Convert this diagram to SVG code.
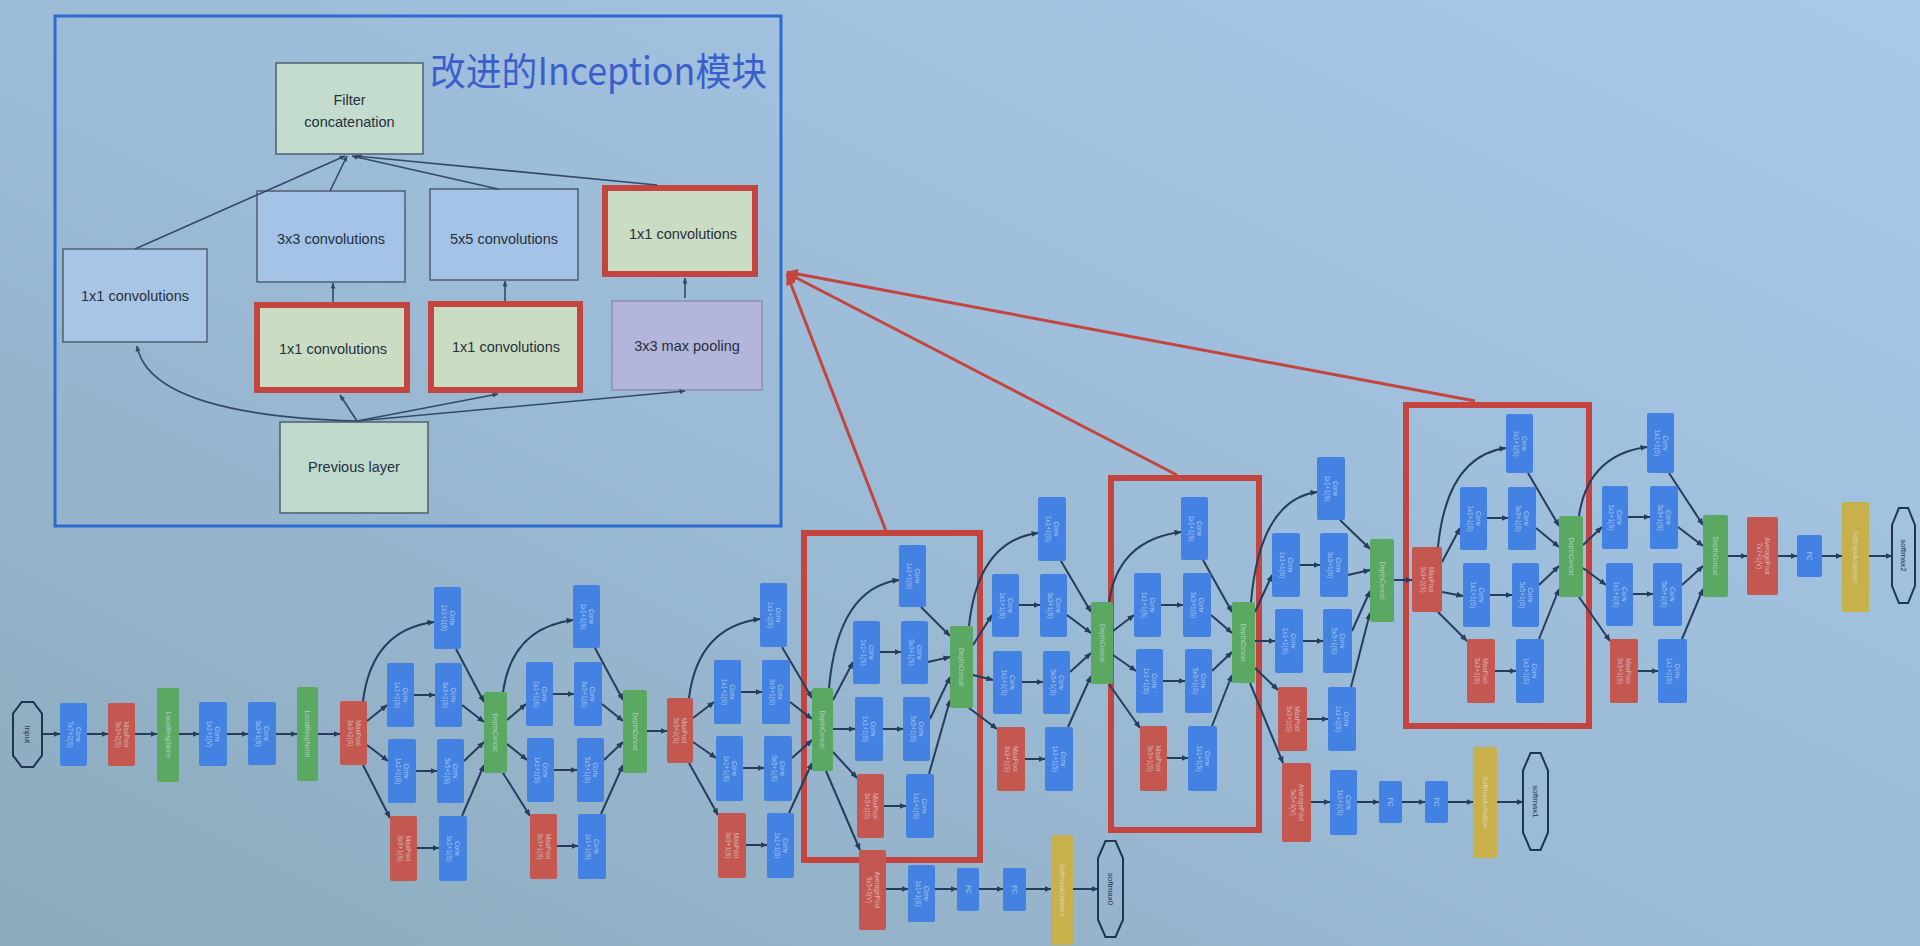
<svg xmlns="http://www.w3.org/2000/svg" width="1920" height="946" viewBox="0 0 1920 946">
<defs>
<linearGradient id="bg" x1="0" y1="1" x2="1" y2="0">
<stop offset="0" stop-color="#8dabbc"/>
<stop offset="0.45" stop-color="#9bbad5"/>
<stop offset="1" stop-color="#a9c9ea"/>
</linearGradient>
<marker id="ah" markerWidth="7" markerHeight="6" refX="6.5" refY="3" orient="auto" markerUnits="userSpaceOnUse"><path d="M0,0 L7,3 L0,6 z" fill="#263c5c"/></marker>
<marker id="ahs" markerWidth="6" markerHeight="5" refX="5.5" refY="2.5" orient="auto" markerUnits="userSpaceOnUse"><path d="M0,0 L6,2.5 L0,5 z" fill="#34496a"/></marker>
<marker id="ahr" markerWidth="12" markerHeight="10" refX="11" refY="5" orient="auto" markerUnits="userSpaceOnUse"><path d="M0,0 L12,5 L0,10 z" fill="#c4453f"/></marker>
</defs>
<style>
.nb{fill:#4382e2}.nr{fill:#c4574f}.ng{fill:#5aa862}.ny{fill:#c8b04a}
.oc{fill:none;stroke:#1f3550;stroke-width:2}
.lb{font-family:"Liberation Sans",Arial,sans-serif;font-size:6.5px;fill:#e6eefc;text-anchor:middle;opacity:.6}
.lo{font-family:"Liberation Sans",Arial,sans-serif;font-size:8px;fill:#1f3550;text-anchor:middle}
.e{fill:none;stroke:#263c5c;stroke-width:2;marker-end:url(#ah)}
.pe{fill:none;stroke:#34496a;stroke-width:1.6;marker-end:url(#ahs)}
.pb{stroke:#4f5f72;stroke-width:1.5}
.pr{stroke:#c4453f;stroke-width:6;fill:#cadcc2}
.pt{font-family:"Liberation Sans",Arial,sans-serif;font-size:14.5px;fill:#263040;text-anchor:middle}
.rb{fill:none;stroke:#c4453f;stroke-width:6}
.ra{fill:none;stroke:#c4453f;stroke-width:3;marker-end:url(#ahr)}
</style>
<rect x="0" y="0" width="1920" height="946" fill="url(#bg)"/>

<g id="panel">
<rect x="55" y="16" width="726" height="510" fill="none" stroke="#2d6ad2" stroke-width="3"/>
<text x="430" y="85" font-family="Noto Sans CJK SC, sans-serif" font-size="38" fill="#3a5fcc" textLength="337" lengthAdjust="spacingAndGlyphs">改进的Inception模块</text>
<g id="p_filter"><rect class="pb" x="276" y="63" width="147" height="91" fill="#c3dccd"/><text class="pt" x="349.5" y="105">Filter</text><text class="pt" x="349.5" y="127">concatenation</text></g>
<g id="p_conv3"><rect class="pb" x="257" y="191" width="148" height="91" fill="#a5c3e6"/><text class="pt" x="331" y="244">3x3 convolutions</text></g>
<g id="p_conv5"><rect class="pb" x="430" y="189" width="148" height="91" fill="#a5c3e6"/><text class="pt" x="504" y="244">5x5 convolutions</text></g>
<g id="p_conv1r"><rect class="pr" x="605" y="188" width="150" height="86"/><text class="pt" x="683" y="239">1x1 convolutions</text></g>
<g id="p_conv1l"><rect class="pb" x="63" y="249" width="144" height="93" fill="#a8c5e6"/><text class="pt" x="135" y="301">1x1 convolutions</text></g>
<g id="p_red1"><rect class="pr" x="257" y="305" width="150" height="85"/><text class="pt" x="333" y="354">1x1 convolutions</text></g>
<g id="p_red2"><rect class="pr" x="431" y="304" width="149" height="86"/><text class="pt" x="506" y="352">1x1 convolutions</text></g>
<g id="p_pool"><rect x="612" y="301" width="150" height="89" fill="#b3b5da" stroke="#8c8fb8" stroke-width="1.5"/><text class="pt" x="687" y="351">3x3 max pooling</text></g>
<g id="p_prev"><rect class="pb" x="280" y="422" width="148" height="91" fill="#bfdacc"/><text class="pt" x="354" y="472">Previous layer</text></g>
<g id="p_edges">
<path class="pe" d="M357,421 Q150,415 137,346"/>
<path class="pe" d="M357,421 L340,395"/>
<path class="pe" d="M357,421 L498,394"/>
<path class="pe" d="M357,421 L685,391"/>
<path class="pe" d="M333,302 L333,283"/>
<path class="pe" d="M505,301 L505,281"/>
<path class="pe" d="M685,298 L685,278"/>
<path class="pe" d="M135,249 L345,156"/>
<path class="pe" d="M330,191 L347,156"/>
<path class="pe" d="M498,189 L352,156"/>
<path class="pe" d="M657,185 L356,156"/>
</g>
</g>

<g id="highlight_boxes">
<rect class="rb" x="804" y="533" width="176" height="327"/>
<rect class="rb" x="1111" y="478" width="148" height="352"/>
<rect class="rb" x="1406" y="405" width="183" height="321"/>
</g>

<g id="connectors">
<path class="e" d="M42,734 L60,734"/><path class="e" d="M87,734 L108,734"/><path class="e" d="M135,734 L157,734"/><path class="e" d="M179,734 L199,734"/><path class="e" d="M227,734 L248,734"/><path class="e" d="M276,734 L297,734"/><path class="e" d="M318,734 L340,734"/>
<path class="e" d="M363,701 Q372,630 434,622"/><path class="e" d="M367,721 L387,705"/><path class="e" d="M367,745 L388,761"/><path class="e" d="M363,765 L390,818"/><path class="e" d="M414,695 L435,695"/><path class="e" d="M416,771 L437,771"/><path class="e" d="M417,848 L439,848"/><path class="e" d="M456,649 L484,702"/><path class="e" d="M462,705 L484,722"/><path class="e" d="M464,761 L484,742"/><path class="e" d="M462,816 L484,765"/>
<path class="e" d="M503,692 Q512,628 573,620"/><path class="e" d="M507,720 L526,704"/><path class="e" d="M507,744 L527,760"/><path class="e" d="M503,773 L530,816"/><path class="e" d="M553,694 L574,694"/><path class="e" d="M554,770 L577,770"/><path class="e" d="M557,846 L578,846"/><path class="e" d="M595,648 L623,700"/><path class="e" d="M602,704 L623,721"/><path class="e" d="M604,760 L623,742"/><path class="e" d="M601,814 L623,765"/>
<path class="e" d="M647,731 L667,731"/>
<path class="e" d="M689,698 Q698,627 760,619"/><path class="e" d="M693,718 L714,702"/><path class="e" d="M693,742 L716,758"/><path class="e" d="M689,763 L718,815"/><path class="e" d="M741,692 L762,692"/><path class="e" d="M743,768 L764,768"/><path class="e" d="M746,845 L767,845"/><path class="e" d="M782,647 L812,698"/><path class="e" d="M790,702 L812,719"/><path class="e" d="M792,758 L812,740"/><path class="e" d="M789,813 L812,763"/>
<path class="e" d="M829,688 Q838,588 899,580"/><path class="e" d="M833,700 L853,662"/><path class="e" d="M833,729 L855,729"/><path class="e" d="M833,752 L857,778"/><path class="e" d="M880,652 L901,652"/><path class="e" d="M883,729 L903,729"/><path class="e" d="M884,806 L906,806"/><path class="e" d="M921,607 L950,636"/><path class="e" d="M928,662 L950,657"/><path class="e" d="M930,719 L950,677"/><path class="e" d="M929,774 L950,700"/>
<path class="e" d="M826,771 L860,850"/><path class="e" d="M886,889 L908,889"/><path class="e" d="M935,889 L957,889"/><path class="e" d="M979,889 L1003,889"/><path class="e" d="M1026,889 L1051,889"/><path class="e" d="M1073,889 L1098,889"/>
<path class="e" d="M969,626 Q978,541 1038,533"/><path class="e" d="M973,645 L992,615"/><path class="e" d="M973,675 L993,680"/><path class="e" d="M969,708 L997,729"/><path class="e" d="M1019,605 L1040,605"/><path class="e" d="M1022,682 L1043,682"/><path class="e" d="M1025,759 L1045,759"/><path class="e" d="M1061,561 L1091,612"/><path class="e" d="M1067,615 L1091,633"/><path class="e" d="M1070,672 L1091,653"/><path class="e" d="M1068,727 L1091,676"/>
<path class="e" d="M1109,602 Q1118,540 1181,532"/><path class="e" d="M1113,631 L1134,615"/><path class="e" d="M1113,655 L1136,671"/><path class="e" d="M1109,684 L1140,728"/><path class="e" d="M1161,605 L1183,605"/><path class="e" d="M1163,681 L1185,681"/><path class="e" d="M1167,758 L1188,758"/><path class="e" d="M1203,560 L1232,612"/><path class="e" d="M1211,615 L1232,633"/><path class="e" d="M1212,671 L1232,652"/><path class="e" d="M1212,726 L1232,675"/>
<path class="e" d="M1250,683 L1283,763"/><path class="e" d="M1311,802 L1330,802"/><path class="e" d="M1357,802 L1379,802"/><path class="e" d="M1402,802 L1425,802"/><path class="e" d="M1448,802 L1473,802"/><path class="e" d="M1497,802 L1523,802"/>
<path class="e" d="M1251,602 Q1260,500 1317,492"/><path class="e" d="M1255,612 L1272,575"/><path class="e" d="M1255,641 L1275,641"/><path class="e" d="M1255,668 L1278,690"/><path class="e" d="M1300,565 L1320,565"/><path class="e" d="M1303,641 L1323,641"/><path class="e" d="M1307,719 L1328,719"/><path class="e" d="M1340,520 L1370,549"/><path class="e" d="M1348,575 L1370,570"/><path class="e" d="M1352,631 L1370,591"/><path class="e" d="M1351,687 L1370,613"/>
<path class="e" d="M1394,580 L1412,580"/>
<path class="e" d="M1438,547 Q1447,456 1506,448"/><path class="e" d="M1442,562 L1460,528"/><path class="e" d="M1442,592 L1463,596"/><path class="e" d="M1438,612 L1467,641"/><path class="e" d="M1487,518 L1508,518"/><path class="e" d="M1490,595 L1512,595"/><path class="e" d="M1495,671 L1516,671"/><path class="e" d="M1528,473 L1559,526"/><path class="e" d="M1536,528 L1559,547"/><path class="e" d="M1539,585 L1559,566"/><path class="e" d="M1539,639 L1559,589"/>
<path class="e" d="M1579,516 Q1588,455 1647,447"/><path class="e" d="M1583,545 L1602,527"/><path class="e" d="M1583,568 L1606,585"/><path class="e" d="M1579,597 L1610,641"/><path class="e" d="M1628,517 L1650,517"/><path class="e" d="M1633,594 L1653,594"/><path class="e" d="M1638,671 L1658,671"/><path class="e" d="M1669,473 L1703,525"/><path class="e" d="M1678,527 L1703,546"/><path class="e" d="M1682,585 L1703,566"/><path class="e" d="M1682,639 L1703,589"/>
<path class="e" d="M1728,556 L1747,556"/><path class="e" d="M1778,556 L1797,556"/><path class="e" d="M1822,556 L1842,556"/><path class="e" d="M1869,556 L1892,556"/>
<path class="ra" d="M886,531 L787,274"/>
<path class="ra" d="M1177,475 L787,273"/>
<path class="ra" d="M1475,401 L787,272"/>
</g>

<g id="stem">
<g id="input"><polygon class="oc" points="21.7,702 33.3,702 42,713.7 42,755.3 33.3,767 21.7,767 13,755.3 13,713.7"/><text class="lo" transform="translate(27.5,734.5) rotate(90)" y="3">input</text></g>
<g id="conv1"><rect class="nb" x="60" y="703" width="27" height="63" rx="2"/><text class="lb" transform="translate(73.5,734.5) rotate(90)"><tspan x="0" y="-2">Conv</tspan><tspan x="0" y="6">7x7+2(S)</tspan></text></g>
<g id="pool1"><rect class="nr" x="108" y="703" width="27" height="63" rx="2"/><text class="lb" transform="translate(121.5,734.5) rotate(90)"><tspan x="0" y="-2">MaxPool</tspan><tspan x="0" y="6">3x3+2(S)</tspan></text></g>
<g id="lrn1"><rect class="ng" x="157" y="688" width="22" height="94" rx="2"/><text class="lb" transform="translate(168,735) rotate(90)" y="2.5">LocalRespNorm</text></g>
<g id="conv2a"><rect class="nb" x="199" y="702" width="28" height="64" rx="2"/><text class="lb" transform="translate(213,734) rotate(90)"><tspan x="0" y="-2">Conv</tspan><tspan x="0" y="6">1x1+1(V)</tspan></text></g>
<g id="conv2b"><rect class="nb" x="248" y="702" width="28" height="63" rx="2"/><text class="lb" transform="translate(262,733.5) rotate(90)"><tspan x="0" y="-2">Conv</tspan><tspan x="0" y="6">3x3+1(S)</tspan></text></g>
<g id="lrn2"><rect class="ng" x="297" y="687" width="21" height="94" rx="2"/><text class="lb" transform="translate(307.5,734) rotate(90)" y="2.5">LocalRespNorm</text></g>
<g id="pool2"><rect class="nr" x="340" y="701" width="27" height="64" rx="2"/><text class="lb" transform="translate(353.5,733) rotate(90)"><tspan x="0" y="-2">MaxPool</tspan><tspan x="0" y="6">3x3+2(S)</tspan></text></g>
</g>

<g id="inc3a">
<g id="i3a_t"><rect class="nb" x="434" y="587" width="27" height="62" rx="2"/><text class="lb" transform="translate(447.5,618) rotate(90)"><tspan x="0" y="-2">Conv</tspan><tspan x="0" y="6">1x1+1(S)</tspan></text></g>
<g id="i3a_a1"><rect class="nb" x="387" y="663" width="27" height="64" rx="2"/><text class="lb" transform="translate(400.5,695) rotate(90)"><tspan x="0" y="-2">Conv</tspan><tspan x="0" y="6">1x1+1(S)</tspan></text></g>
<g id="i3a_a2"><rect class="nb" x="435" y="663" width="27" height="64" rx="2"/><text class="lb" transform="translate(448.5,695) rotate(90)"><tspan x="0" y="-2">Conv</tspan><tspan x="0" y="6">3x3+1(S)</tspan></text></g>
<g id="i3a_b1"><rect class="nb" x="388" y="739" width="28" height="64" rx="2"/><text class="lb" transform="translate(402,771) rotate(90)"><tspan x="0" y="-2">Conv</tspan><tspan x="0" y="6">1x1+1(S)</tspan></text></g>
<g id="i3a_b2"><rect class="nb" x="437" y="739" width="27" height="64" rx="2"/><text class="lb" transform="translate(450.5,771) rotate(90)"><tspan x="0" y="-2">Conv</tspan><tspan x="0" y="6">5x5+1(S)</tspan></text></g>
<g id="i3a_p"><rect class="nr" x="390" y="816" width="27" height="65" rx="2"/><text class="lb" transform="translate(403.5,848.5) rotate(90)"><tspan x="0" y="-2">MaxPool</tspan><tspan x="0" y="6">3x3+1(S)</tspan></text></g>
<g id="i3a_c"><rect class="nb" x="439" y="816" width="28" height="65" rx="2"/><text class="lb" transform="translate(453,848.5) rotate(90)"><tspan x="0" y="-2">Conv</tspan><tspan x="0" y="6">1x1+1(S)</tspan></text></g>
<g id="i3a_cat"><rect class="ng" x="484" y="692" width="23" height="81" rx="2"/><text class="lb" transform="translate(495.5,732.5) rotate(90)" y="2.5">DepthConcat</text></g>
</g>

<g id="inc3b">
<g id="i3b_t"><rect class="nb" x="573" y="585" width="27" height="63" rx="2"/><text class="lb" transform="translate(586.5,616.5) rotate(90)"><tspan x="0" y="-2">Conv</tspan><tspan x="0" y="6">1x1+1(S)</tspan></text></g>
<g id="i3b_a1"><rect class="nb" x="526" y="662" width="27" height="64" rx="2"/><text class="lb" transform="translate(539.5,694) rotate(90)"><tspan x="0" y="-2">Conv</tspan><tspan x="0" y="6">1x1+1(S)</tspan></text></g>
<g id="i3b_a2"><rect class="nb" x="574" y="662" width="28" height="64" rx="2"/><text class="lb" transform="translate(588,694) rotate(90)"><tspan x="0" y="-2">Conv</tspan><tspan x="0" y="6">3x3+1(S)</tspan></text></g>
<g id="i3b_b1"><rect class="nb" x="527" y="738" width="27" height="64" rx="2"/><text class="lb" transform="translate(540.5,770) rotate(90)"><tspan x="0" y="-2">Conv</tspan><tspan x="0" y="6">1x1+1(S)</tspan></text></g>
<g id="i3b_b2"><rect class="nb" x="577" y="738" width="27" height="64" rx="2"/><text class="lb" transform="translate(590.5,770) rotate(90)"><tspan x="0" y="-2">Conv</tspan><tspan x="0" y="6">5x5+1(S)</tspan></text></g>
<g id="i3b_p"><rect class="nr" x="530" y="814" width="27" height="65" rx="2"/><text class="lb" transform="translate(543.5,846.5) rotate(90)"><tspan x="0" y="-2">MaxPool</tspan><tspan x="0" y="6">3x3+1(S)</tspan></text></g>
<g id="i3b_c"><rect class="nb" x="578" y="814" width="28" height="65" rx="2"/><text class="lb" transform="translate(592,846.5) rotate(90)"><tspan x="0" y="-2">Conv</tspan><tspan x="0" y="6">1x1+1(S)</tspan></text></g>
<g id="i3b_cat"><rect class="ng" x="623" y="690" width="24" height="83" rx="2"/><text class="lb" transform="translate(635,731.5) rotate(90)" y="2.5">DepthConcat</text></g>
</g>
<g id="pool3"><rect class="nr" x="667" y="698" width="26" height="65" rx="2"/><text class="lb" transform="translate(680,730.5) rotate(90)"><tspan x="0" y="-2">MaxPool</tspan><tspan x="0" y="6">3x3+2(S)</tspan></text></g>

<g id="inc4a">
<g id="i4a_t"><rect class="nb" x="760" y="583" width="27" height="64" rx="2"/><text class="lb" transform="translate(773.5,615) rotate(90)"><tspan x="0" y="-2">Conv</tspan><tspan x="0" y="6">1x1+1(S)</tspan></text></g>
<g id="i4a_a1"><rect class="nb" x="714" y="660" width="27" height="64" rx="2"/><text class="lb" transform="translate(727.5,692) rotate(90)"><tspan x="0" y="-2">Conv</tspan><tspan x="0" y="6">1x1+1(S)</tspan></text></g>
<g id="i4a_a2"><rect class="nb" x="762" y="660" width="28" height="64" rx="2"/><text class="lb" transform="translate(776,692) rotate(90)"><tspan x="0" y="-2">Conv</tspan><tspan x="0" y="6">3x3+1(S)</tspan></text></g>
<g id="i4a_b1"><rect class="nb" x="716" y="736" width="27" height="65" rx="2"/><text class="lb" transform="translate(729.5,768.5) rotate(90)"><tspan x="0" y="-2">Conv</tspan><tspan x="0" y="6">1x1+1(S)</tspan></text></g>
<g id="i4a_b2"><rect class="nb" x="764" y="736" width="28" height="65" rx="2"/><text class="lb" transform="translate(778,768.5) rotate(90)"><tspan x="0" y="-2">Conv</tspan><tspan x="0" y="6">5x5+1(S)</tspan></text></g>
<g id="i4a_p"><rect class="nr" x="718" y="813" width="28" height="65" rx="2"/><text class="lb" transform="translate(732,845.5) rotate(90)"><tspan x="0" y="-2">MaxPool</tspan><tspan x="0" y="6">3x3+1(S)</tspan></text></g>
<g id="i4a_c"><rect class="nb" x="767" y="813" width="27" height="65" rx="2"/><text class="lb" transform="translate(780.5,845.5) rotate(90)"><tspan x="0" y="-2">Conv</tspan><tspan x="0" y="6">1x1+1(S)</tspan></text></g>
<g id="i4a_cat"><rect class="ng" x="812" y="688" width="21" height="83" rx="2"/><text class="lb" transform="translate(822.5,729.5) rotate(90)" y="2.5">DepthConcat</text></g>
</g>

<g id="inc4b">
<g id="i4b_t"><rect class="nb" x="899" y="545" width="27" height="62" rx="2"/><text class="lb" transform="translate(912.5,576) rotate(90)"><tspan x="0" y="-2">Conv</tspan><tspan x="0" y="6">1x1+1(S)</tspan></text></g>
<g id="i4b_a1"><rect class="nb" x="853" y="621" width="27" height="63" rx="2"/><text class="lb" transform="translate(866.5,652.5) rotate(90)"><tspan x="0" y="-2">Conv</tspan><tspan x="0" y="6">1x1+1(S)</tspan></text></g>
<g id="i4b_a2"><rect class="nb" x="901" y="621" width="27" height="63" rx="2"/><text class="lb" transform="translate(914.5,652.5) rotate(90)"><tspan x="0" y="-2">Conv</tspan><tspan x="0" y="6">3x3+1(S)</tspan></text></g>
<g id="i4b_b1"><rect class="nb" x="855" y="697" width="28" height="64" rx="2"/><text class="lb" transform="translate(869,729) rotate(90)"><tspan x="0" y="-2">Conv</tspan><tspan x="0" y="6">1x1+1(S)</tspan></text></g>
<g id="i4b_b2"><rect class="nb" x="903" y="697" width="27" height="64" rx="2"/><text class="lb" transform="translate(916.5,729) rotate(90)"><tspan x="0" y="-2">Conv</tspan><tspan x="0" y="6">5x5+1(S)</tspan></text></g>
<g id="i4b_p"><rect class="nr" x="857" y="774" width="27" height="64" rx="2"/><text class="lb" transform="translate(870.5,806) rotate(90)"><tspan x="0" y="-2">MaxPool</tspan><tspan x="0" y="6">3x3+1(S)</tspan></text></g>
<g id="i4b_c"><rect class="nb" x="906" y="774" width="28" height="64" rx="2"/><text class="lb" transform="translate(920,806) rotate(90)"><tspan x="0" y="-2">Conv</tspan><tspan x="0" y="6">1x1+1(S)</tspan></text></g>
<g id="i4b_cat"><rect class="ng" x="950" y="626" width="23" height="82" rx="2"/><text class="lb" transform="translate(961.5,667) rotate(90)" y="2.5">DepthConcat</text></g>
</g>

<g id="aux1">
<g id="x1_avg"><rect class="nr" x="859" y="850" width="27" height="80" rx="2"/><text class="lb" transform="translate(872.5,890) rotate(90)"><tspan x="0" y="-2">AveragePool</tspan><tspan x="0" y="6">5x5+3(V)</tspan></text></g>
<g id="x1_conv"><rect class="nb" x="908" y="865" width="27" height="57" rx="2"/><text class="lb" transform="translate(921.5,893.5) rotate(90)"><tspan x="0" y="-2">Conv</tspan><tspan x="0" y="6">1x1+1(S)</tspan></text></g>
<g id="x1_fc1"><rect class="nb" x="957" y="868" width="22" height="43" rx="2"/><text class="lb" transform="translate(968,889.5) rotate(90)" y="2.5">FC</text></g>
<g id="x1_fc2"><rect class="nb" x="1003" y="868" width="23" height="43" rx="2"/><text class="lb" transform="translate(1014.5,889.5) rotate(90)" y="2.5">FC</text></g>
<g id="x1_soft"><rect class="ny" x="1051" y="835" width="22" height="110" rx="2"/><text class="lb" transform="translate(1062,890) rotate(90)" y="2.5">SoftmaxActivation</text></g>
<g id="softmax0"><polygon class="oc" points="1105.5,841 1115.5,841 1123,858.3 1123,919.7 1115.5,937 1105.5,937 1098,919.7 1098,858.3"/><text class="lo" transform="translate(1110.5,889) rotate(90)" y="3">softmax0</text></g>
</g>

<g id="inc4c">
<g id="i4c_t"><rect class="nb" x="1038" y="497" width="28" height="64" rx="2"/><text class="lb" transform="translate(1052,529) rotate(90)"><tspan x="0" y="-2">Conv</tspan><tspan x="0" y="6">1x1+1(S)</tspan></text></g>
<g id="i4c_a1"><rect class="nb" x="992" y="574" width="27" height="63" rx="2"/><text class="lb" transform="translate(1005.5,605.5) rotate(90)"><tspan x="0" y="-2">Conv</tspan><tspan x="0" y="6">1x1+1(S)</tspan></text></g>
<g id="i4c_a2"><rect class="nb" x="1040" y="574" width="27" height="63" rx="2"/><text class="lb" transform="translate(1053.5,605.5) rotate(90)"><tspan x="0" y="-2">Conv</tspan><tspan x="0" y="6">3x3+1(S)</tspan></text></g>
<g id="i4c_b1"><rect class="nb" x="993" y="651" width="29" height="63" rx="2"/><text class="lb" transform="translate(1007.5,682.5) rotate(90)"><tspan x="0" y="-2">Conv</tspan><tspan x="0" y="6">1x1+1(S)</tspan></text></g>
<g id="i4c_b2"><rect class="nb" x="1043" y="651" width="27" height="63" rx="2"/><text class="lb" transform="translate(1056.5,682.5) rotate(90)"><tspan x="0" y="-2">Conv</tspan><tspan x="0" y="6">5x5+1(S)</tspan></text></g>
<g id="i4c_p"><rect class="nr" x="997" y="727" width="28" height="64" rx="2"/><text class="lb" transform="translate(1011,759) rotate(90)"><tspan x="0" y="-2">MaxPool</tspan><tspan x="0" y="6">3x3+1(S)</tspan></text></g>
<g id="i4c_c"><rect class="nb" x="1045" y="727" width="28" height="64" rx="2"/><text class="lb" transform="translate(1059,759) rotate(90)"><tspan x="0" y="-2">Conv</tspan><tspan x="0" y="6">1x1+1(S)</tspan></text></g>
<g id="i4c_cat"><rect class="ng" x="1091" y="602" width="22" height="82" rx="2"/><text class="lb" transform="translate(1102,643) rotate(90)" y="2.5">DepthConcat</text></g>
</g>

<g id="inc4d">
<g id="i4d_t"><rect class="nb" x="1181" y="497" width="27" height="63" rx="2"/><text class="lb" transform="translate(1194.5,528.5) rotate(90)"><tspan x="0" y="-2">Conv</tspan><tspan x="0" y="6">1x1+1(S)</tspan></text></g>
<g id="i4d_a1"><rect class="nb" x="1134" y="573" width="27" height="64" rx="2"/><text class="lb" transform="translate(1147.5,605) rotate(90)"><tspan x="0" y="-2">Conv</tspan><tspan x="0" y="6">1x1+1(S)</tspan></text></g>
<g id="i4d_a2"><rect class="nb" x="1183" y="573" width="28" height="64" rx="2"/><text class="lb" transform="translate(1197,605) rotate(90)"><tspan x="0" y="-2">Conv</tspan><tspan x="0" y="6">3x3+1(S)</tspan></text></g>
<g id="i4d_b1"><rect class="nb" x="1136" y="649" width="27" height="64" rx="2"/><text class="lb" transform="translate(1149.5,681) rotate(90)"><tspan x="0" y="-2">Conv</tspan><tspan x="0" y="6">1x1+1(S)</tspan></text></g>
<g id="i4d_b2"><rect class="nb" x="1185" y="649" width="27" height="64" rx="2"/><text class="lb" transform="translate(1198.5,681) rotate(90)"><tspan x="0" y="-2">Conv</tspan><tspan x="0" y="6">5x5+1(S)</tspan></text></g>
<g id="i4d_p"><rect class="nr" x="1140" y="726" width="27" height="65" rx="2"/><text class="lb" transform="translate(1153.5,758.5) rotate(90)"><tspan x="0" y="-2">MaxPool</tspan><tspan x="0" y="6">3x3+1(S)</tspan></text></g>
<g id="i4d_c"><rect class="nb" x="1188" y="726" width="29" height="65" rx="2"/><text class="lb" transform="translate(1202.5,758.5) rotate(90)"><tspan x="0" y="-2">Conv</tspan><tspan x="0" y="6">1x1+1(S)</tspan></text></g>
<g id="i4d_cat"><rect class="ng" x="1232" y="602" width="23" height="81" rx="2"/><text class="lb" transform="translate(1243.5,642.5) rotate(90)" y="2.5">DepthConcat</text></g>
</g>

<g id="aux2">
<g id="x2_avg"><rect class="nr" x="1282" y="763" width="29" height="79" rx="2"/><text class="lb" transform="translate(1296.5,802.5) rotate(90)"><tspan x="0" y="-2">AveragePool</tspan><tspan x="0" y="6">5x5+3(V)</tspan></text></g>
<g id="x2_conv"><rect class="nb" x="1330" y="770" width="27" height="65" rx="2"/><text class="lb" transform="translate(1343.5,802.5) rotate(90)"><tspan x="0" y="-2">Conv</tspan><tspan x="0" y="6">1x1+1(S)</tspan></text></g>
<g id="x2_fc1"><rect class="nb" x="1379" y="781" width="23" height="42" rx="2"/><text class="lb" transform="translate(1390.5,802) rotate(90)" y="2.5">FC</text></g>
<g id="x2_fc2"><rect class="nb" x="1425" y="781" width="23" height="42" rx="2"/><text class="lb" transform="translate(1436.5,802) rotate(90)" y="2.5">FC</text></g>
<g id="x2_soft"><rect class="ny" x="1473" y="747" width="24" height="111" rx="2"/><text class="lb" transform="translate(1485,802.5) rotate(90)" y="2.5">SoftmaxActivation</text></g>
<g id="softmax1"><polygon class="oc" points="1530.5,753 1540.5,753 1548,770.5 1548,832.5 1540.5,850 1530.5,850 1523,832.5 1523,770.5"/><text class="lo" transform="translate(1535.5,801.5) rotate(90)" y="3">softmax1</text></g>
</g>

<g id="inc4e">
<g id="i4e_t"><rect class="nb" x="1317" y="457" width="28" height="63" rx="2"/><text class="lb" transform="translate(1331,488.5) rotate(90)"><tspan x="0" y="-2">Conv</tspan><tspan x="0" y="6">1x1+1(S)</tspan></text></g>
<g id="i4e_a1"><rect class="nb" x="1272" y="533" width="28" height="64" rx="2"/><text class="lb" transform="translate(1286,565) rotate(90)"><tspan x="0" y="-2">Conv</tspan><tspan x="0" y="6">1x1+1(S)</tspan></text></g>
<g id="i4e_a2"><rect class="nb" x="1320" y="533" width="28" height="64" rx="2"/><text class="lb" transform="translate(1334,565) rotate(90)"><tspan x="0" y="-2">Conv</tspan><tspan x="0" y="6">3x3+1(S)</tspan></text></g>
<g id="i4e_b1"><rect class="nb" x="1275" y="609" width="28" height="64" rx="2"/><text class="lb" transform="translate(1289,641) rotate(90)"><tspan x="0" y="-2">Conv</tspan><tspan x="0" y="6">1x1+1(S)</tspan></text></g>
<g id="i4e_b2"><rect class="nb" x="1323" y="609" width="29" height="64" rx="2"/><text class="lb" transform="translate(1337.5,641) rotate(90)"><tspan x="0" y="-2">Conv</tspan><tspan x="0" y="6">5x5+1(S)</tspan></text></g>
<g id="i4e_p"><rect class="nr" x="1278" y="687" width="29" height="64" rx="2"/><text class="lb" transform="translate(1292.5,719) rotate(90)"><tspan x="0" y="-2">MaxPool</tspan><tspan x="0" y="6">3x3+1(S)</tspan></text></g>
<g id="i4e_c"><rect class="nb" x="1328" y="687" width="28" height="64" rx="2"/><text class="lb" transform="translate(1342,719) rotate(90)"><tspan x="0" y="-2">Conv</tspan><tspan x="0" y="6">1x1+1(S)</tspan></text></g>
<g id="i4e_cat"><rect class="ng" x="1370" y="539" width="24" height="83" rx="2"/><text class="lb" transform="translate(1382,580.5) rotate(90)" y="2.5">DepthConcat</text></g>
</g>
<g id="pool4"><rect class="nr" x="1412" y="547" width="30" height="65" rx="2"/><text class="lb" transform="translate(1427,579.5) rotate(90)"><tspan x="0" y="-2">MaxPool</tspan><tspan x="0" y="6">3x3+2(S)</tspan></text></g>

<g id="inc5a">
<g id="i5a_t"><rect class="nb" x="1506" y="414" width="27" height="59" rx="2"/><text class="lb" transform="translate(1519.5,443.5) rotate(90)"><tspan x="0" y="-2">Conv</tspan><tspan x="0" y="6">1x1+1(S)</tspan></text></g>
<g id="i5a_a1"><rect class="nb" x="1460" y="487" width="27" height="63" rx="2"/><text class="lb" transform="translate(1473.5,518.5) rotate(90)"><tspan x="0" y="-2">Conv</tspan><tspan x="0" y="6">1x1+1(S)</tspan></text></g>
<g id="i5a_a2"><rect class="nb" x="1508" y="487" width="28" height="63" rx="2"/><text class="lb" transform="translate(1522,518.5) rotate(90)"><tspan x="0" y="-2">Conv</tspan><tspan x="0" y="6">3x3+1(S)</tspan></text></g>
<g id="i5a_b1"><rect class="nb" x="1463" y="563" width="27" height="64" rx="2"/><text class="lb" transform="translate(1476.5,595) rotate(90)"><tspan x="0" y="-2">Conv</tspan><tspan x="0" y="6">1x1+1(S)</tspan></text></g>
<g id="i5a_b2"><rect class="nb" x="1512" y="563" width="27" height="64" rx="2"/><text class="lb" transform="translate(1525.5,595) rotate(90)"><tspan x="0" y="-2">Conv</tspan><tspan x="0" y="6">5x5+1(S)</tspan></text></g>
<g id="i5a_p"><rect class="nr" x="1467" y="639" width="28" height="64" rx="2"/><text class="lb" transform="translate(1481,671) rotate(90)"><tspan x="0" y="-2">MaxPool</tspan><tspan x="0" y="6">3x3+1(S)</tspan></text></g>
<g id="i5a_c"><rect class="nb" x="1516" y="639" width="28" height="64" rx="2"/><text class="lb" transform="translate(1530,671) rotate(90)"><tspan x="0" y="-2">Conv</tspan><tspan x="0" y="6">1x1+1(S)</tspan></text></g>
<g id="i5a_cat"><rect class="ng" x="1559" y="516" width="24" height="81" rx="2"/><text class="lb" transform="translate(1571,556.5) rotate(90)" y="2.5">DepthConcat</text></g>
</g>

<g id="inc5b">
<g id="i5b_t"><rect class="nb" x="1647" y="413" width="27" height="60" rx="2"/><text class="lb" transform="translate(1660.5,443) rotate(90)"><tspan x="0" y="-2">Conv</tspan><tspan x="0" y="6">1x1+1(S)</tspan></text></g>
<g id="i5b_a1"><rect class="nb" x="1602" y="486" width="26" height="63" rx="2"/><text class="lb" transform="translate(1615,517.5) rotate(90)"><tspan x="0" y="-2">Conv</tspan><tspan x="0" y="6">1x1+1(S)</tspan></text></g>
<g id="i5b_a2"><rect class="nb" x="1650" y="486" width="28" height="63" rx="2"/><text class="lb" transform="translate(1664,517.5) rotate(90)"><tspan x="0" y="-2">Conv</tspan><tspan x="0" y="6">3x3+1(S)</tspan></text></g>
<g id="i5b_b1"><rect class="nb" x="1606" y="563" width="27" height="63" rx="2"/><text class="lb" transform="translate(1619.5,594.5) rotate(90)"><tspan x="0" y="-2">Conv</tspan><tspan x="0" y="6">1x1+1(S)</tspan></text></g>
<g id="i5b_b2"><rect class="nb" x="1653" y="563" width="29" height="63" rx="2"/><text class="lb" transform="translate(1667.5,594.5) rotate(90)"><tspan x="0" y="-2">Conv</tspan><tspan x="0" y="6">5x5+1(S)</tspan></text></g>
<g id="i5b_p"><rect class="nr" x="1610" y="639" width="28" height="64" rx="2"/><text class="lb" transform="translate(1624,671) rotate(90)"><tspan x="0" y="-2">MaxPool</tspan><tspan x="0" y="6">3x3+1(S)</tspan></text></g>
<g id="i5b_c"><rect class="nb" x="1658" y="639" width="29" height="64" rx="2"/><text class="lb" transform="translate(1672.5,671) rotate(90)"><tspan x="0" y="-2">Conv</tspan><tspan x="0" y="6">1x1+1(S)</tspan></text></g>
<g id="i5b_cat"><rect class="ng" x="1703" y="515" width="25" height="82" rx="2"/><text class="lb" transform="translate(1715.5,556) rotate(90)" y="2.5">DepthConcat</text></g>
</g>

<g id="head">
<g id="avg_final"><rect class="nr" x="1747" y="517" width="31" height="78" rx="2"/><text class="lb" transform="translate(1762.5,556) rotate(90)"><tspan x="0" y="-2">AveragePool</tspan><tspan x="0" y="6">7x7+1(V)</tspan></text></g>
<g id="fc_final"><rect class="nb" x="1797" y="535" width="25" height="42" rx="2"/><text class="lb" transform="translate(1809.5,556) rotate(90)" y="2.5">FC</text></g>
<g id="soft_final"><rect class="ny" x="1842" y="502" width="27" height="110" rx="2"/><text class="lb" transform="translate(1855.5,557) rotate(90)" y="2.5">SoftmaxActivation</text></g>
<g id="softmax2"><polygon class="oc" points="1898.9,508 1908.1,508 1915,525.1 1915,585.9 1908.1,603 1898.9,603 1892,585.9 1892,525.1"/><text class="lo" transform="translate(1903.5,555.5) rotate(90)" y="3">softmax2</text></g>
</g>
</svg>
